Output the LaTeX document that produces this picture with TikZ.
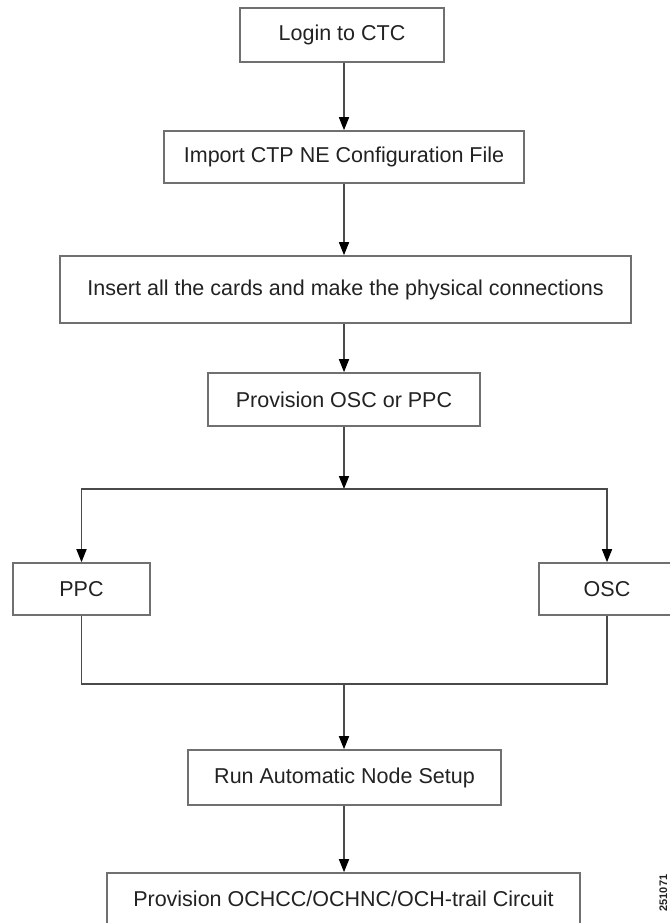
\documentclass[tikz,border=0pt]{standalone}
\usepackage{fontspec}
\setmainfont{Liberation Sans}
\usetikzlibrary{arrows.meta}
\definecolor{boxline}{HTML}{707070}
\definecolor{conn}{HTML}{4A4A4A}
\definecolor{txt}{HTML}{222222}
\tikzset{
  stepbox/.style={draw=boxline, line width=1.6pt, rectangle, inner sep=0pt,
    text=txt, font=\fontsize{21.5}{24}\selectfont, fill=white},
  conline/.style={draw=conn, line width=1.6pt},
  arr/.style={conline, -{Triangle[length=13pt,width=10pt,color=black]}}
}
\begin{document}
\begin{tikzpicture}[x=1pt,y=-1pt]
\useasboundingbox (0,0) rectangle (669,923);
\node[stepbox, minimum width=204pt, minimum height=54pt] (b1) at (342,35) {Login to CTC};
\node[stepbox, minimum width=360pt, minimum height=52pt] (b2) at (344,157) {Import CTP NE Configuration File};
\node[stepbox, minimum width=571pt, minimum height=67pt] (b3) at (345.5,289.5) {Insert all the cards and make the physical connections};
\node[stepbox, minimum width=272pt, minimum height=53pt] (b4) at (344,399.5) {Provision OSC or PPC};
\node[stepbox, minimum width=137pt, minimum height=52pt] (ppc) at (81.5,589) {PPC};
\node[stepbox, minimum width=136pt, minimum height=52pt] (osc) at (607,589) {OSC};
\node[stepbox, minimum width=313pt, minimum height=55pt] (run) at (344.5,777.5) {Run Automatic Node Setup};
\node[stepbox, minimum width=473pt, minimum height=58pt] (prov) at (343.5,902) {};
\node[text=txt, font=\fontsize{21.5}{24}\selectfont] (provt) at (343.5,899) {Provision OCHCC/OCHNC/OCH-trail Circuit};
\node[rotate=90, anchor=south, inner sep=0pt, text=txt, font=\bfseries\fontsize{11}{13}\selectfont] (fig) at (667.5,893) {251071};
\coordinate (br) at (344,489);
\coordinate (jn) at (344,684);
\draw[arr] (b1.south -| 344,0) -- (b2.north -| 344,0);
\draw[arr] (b2.south -| 344,0) -- (b3.north -| 344,0);
\draw[arr] (b3.south -| 344,0) -- (b4.north -| 344,0);
\draw[arr] (b4.south -| br) -- (br);
\draw[arr] (br) -| (ppc.north);
\draw[arr] (br) -| (osc.north);
\draw[conline] (ppc.south) |- (jn);
\draw[conline] (osc.south) |- (jn);
\draw[arr] (jn) -- (run.north -| jn);
\draw[arr] (run.south -| 344,0) -- (prov.north -| 344,0);
\end{tikzpicture}
\end{document}
